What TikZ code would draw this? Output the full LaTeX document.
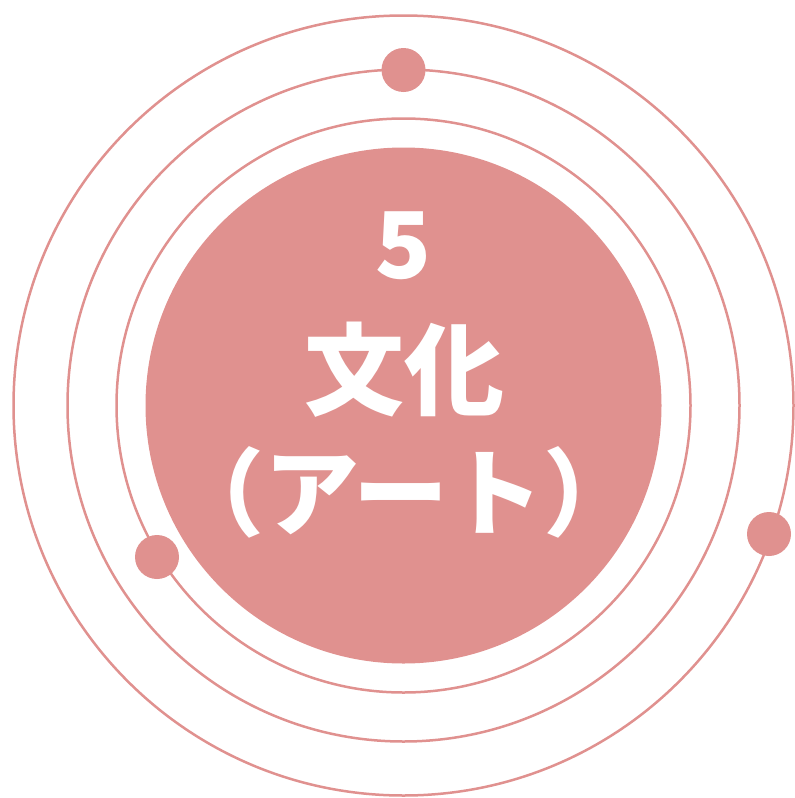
\documentclass[tikz,border=0pt]{standalone}
\usepackage{fontspec}
\newfontfamily\jpfont{Noto Sans CJK JP}
\usepackage{xcolor}
\usetikzlibrary{positioning}
\definecolor{rose}{RGB}{224,145,143}

\begin{document}
\begin{tikzpicture}[x=1pt, y=-1pt,
  ring/.style={draw=rose, line width=2.5pt},
  planet/.style={circle, fill=rose, minimum size=44pt, inner sep=0pt},
  txt/.style={text=white, inner sep=0pt, font=\jpfont\bfseries\fontsize{#1}{#1}\selectfont}
]
  \useasboundingbox (0,0) rectangle (795,798);
  \coordinate (c) at (403.5,405.5);

  % Core and orbits
  \fill[rose] (c) circle (258);
  \draw[ring] (c) circle (287);
  \draw[ring] (c) circle (336);
  \draw[ring] (c) circle (390);

  % Planets on the orbits
  \node[planet] (top) at (403.5,70) {};
  \node[planet] (left) at (157,557) {};
  \node[planet] (right) at (769,534) {};

  % Title
  \node[txt=92] (num) at (404,246) {5};
  \node[txt=100] (word) at (404,370) {文化};
  \node[txt=95] (art) at (404,492) {（アート）};
\end{tikzpicture}
\end{document}
